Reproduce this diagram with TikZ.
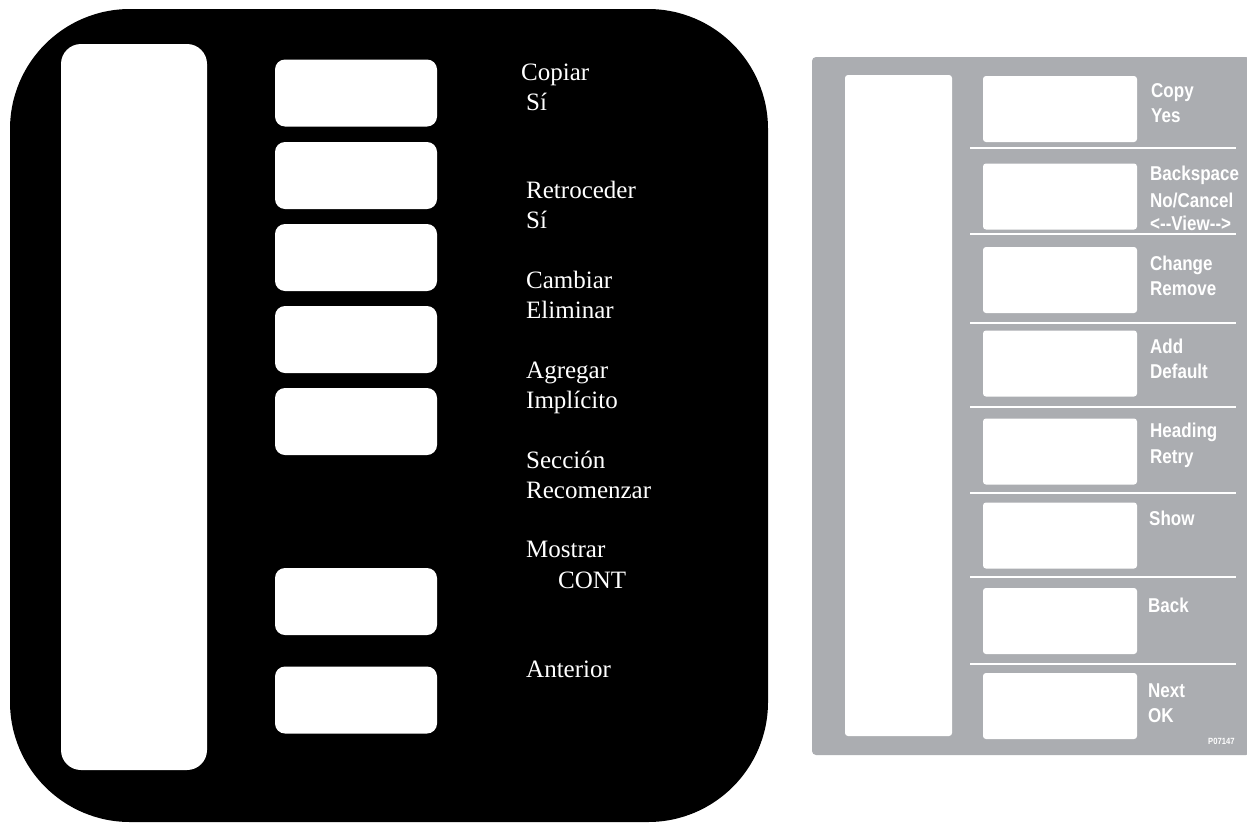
\documentclass[tikz,border=0pt]{standalone}
\usepackage{fontspec}
\setmainfont{Liberation Serif}
\newfontfamily\labelfont[FakeStretch=0.85]{Liberation Sans}
\usepackage{tikz}

\definecolor{panelgrey}{RGB}{171,173,177}

\begin{document}
\begin{tikzpicture}[x=1pt,y=-1pt]
            \useasboundingbox (0,0) rectangle (1247,822);
            % black panel (spanish)
            \fill[black, rounded corners=120pt] (10,9) rectangle (768,822);
            \begin{scope}[every node/.style={fill=white, inner sep=0pt, outer sep=0pt, rounded corners=10pt, minimum width=162pt, minimum height=67pt}]
                \node[minimum width=146pt, minimum height=726pt, rounded corners=20pt] (0) at (134,407) {};
                \node (1) at (356,93) {};
                \node (2) at (356,175.5) {};
                \node (3) at (356,257.5) {};
                \node (4) at (356,339.5) {};
                \node (5) at (356,421.5) {};
                \node (6) at (356,601.5) {};
                \node (7) at (356,700) {};
            \end{scope}
            \begin{scope}[every node/.style={text=white, anchor=base west, inner sep=0pt, font=\fontsize{25}{28}\selectfont}]
                \node (t1) at (521,80) {Copiar};
                \node (t2) at (526,110) {Sí};
                \node (t3) at (526,198) {Retroceder};
                \node (t4) at (526,228) {Sí};
                \node (t5) at (526,288) {Cambiar};
                \node (t6) at (526,318) {Eliminar};
                \node (t7) at (526,378) {Agregar};
                \node (t8) at (526,408) {Implícito};
                \node (t9) at (526,468) {Sección};
                \node (t10) at (526,498) {Recomenzar};
                \node (t11) at (526,557) {Mostrar};
                \node (t12) at (558,588) {CONT};
                \node (t13) at (526,677) {Anterior};
            \end{scope}

            % grey panel (english)
            \fill[panelgrey, rounded corners=4pt] (812,57) rectangle (1250,755);
            \begin{scope}[every node/.style={fill=white, inner sep=0pt, outer sep=0pt, rounded corners=3pt, minimum width=154pt, minimum height=66pt}]
                \node[minimum width=107pt, minimum height=661pt] (g0) at (898.5,405.5) {};
                \node (g1) at (1060,109) {};
                \node (g2) at (1060,196.5) {};
                \node (g3) at (1060,280) {};
                \node (g4) at (1060,363.5) {};
                \node (g5) at (1060,451.5) {};
                \node (g6) at (1060,535.5) {};
                \node (g7) at (1060,621) {};
                \node (g8) at (1060,706) {};
            \end{scope}
            \foreach \y in {148,234,323,407,493,577,664}
                \draw[white, line width=2pt] (970,\y) -- (1236,\y);
            \begin{scope}[every node/.style={text=white, anchor=base west, inner sep=0pt, font=\labelfont\bfseries\fontsize{20}{22}\selectfont}]
                \node (e1) at (1151,97) {Copy};
                \node (e2) at (1151,122) {Yes};
                \node (e3) at (1150,180) {Backspace};
                \node (e4) at (1150,207) {No/Cancel};
                \node (e5) at (1150,230) {<--View-->};
                \node (e6) at (1150,270) {Change};
                \node (e7) at (1150,295) {Remove};
                \node (e8) at (1150,353) {Add};
                \node (e9) at (1150,378) {Default};
                \node (e10) at (1150,437) {Heading};
                \node (e11) at (1150,463) {Retry};
                \node (e12) at (1149,525) {Show};
                \node (e13) at (1148,612) {Back};
                \node (e14) at (1148,697) {Next};
                \node (e15) at (1148,722) {OK};
                \node[font=\labelfont\bfseries\fontsize{9}{10}\selectfont] (e16) at (1208,744) {P07147};
            \end{scope}
        \end{tikzpicture}
\end{document}
